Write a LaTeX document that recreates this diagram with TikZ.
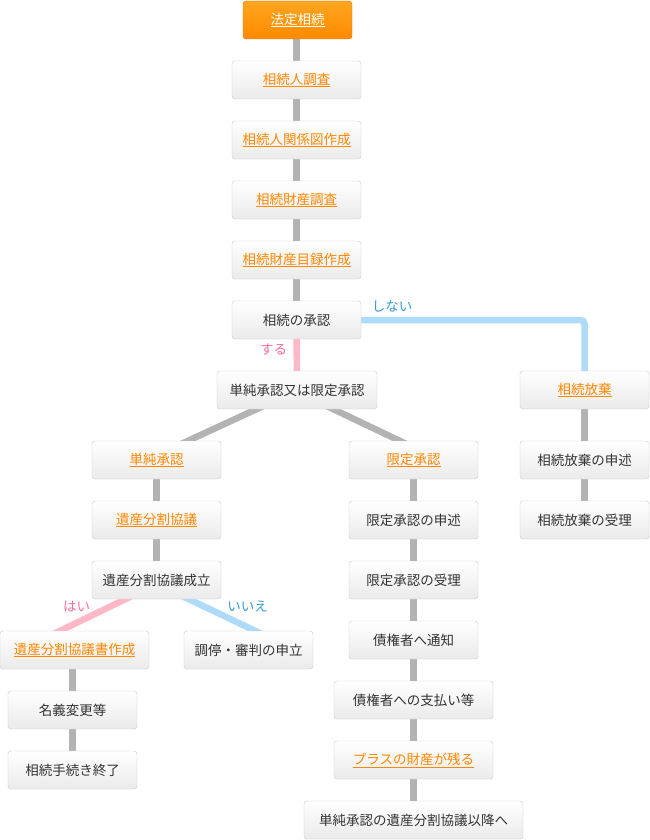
\documentclass[tikz,border=0pt]{standalone}
\usepackage{fontspec}
\setmainfont{Noto Sans CJK JP}
\usepackage{tikz}
\usetikzlibrary{backgrounds}
\definecolor{linkorange}{HTML}{FF8800}
\definecolor{txtgray}{HTML}{333333}
\definecolor{linegray}{HTML}{B3B3B3}
\definecolor{yespink}{HTML}{FFB8C8}
\definecolor{noblue}{HTML}{ADDBF8}
\definecolor{yestext}{HTML}{FF6C9C}
\definecolor{notext}{HTML}{3A9AD0}
\definecolor{boxborder}{HTML}{CACACA}
\newcommand{\lnk}[1]{\underline{#1}}

\begin{document}
\begin{tikzpicture}[x=1pt,y=-1pt,
  box/.style={draw=boxborder, rounded corners=3pt, top color=white, bottom color=black!8,
    minimum height=38pt, inner sep=0pt, text=txtgray, font=\fontsize{13.5}{16}\selectfont},
  linkbox/.style={box, text=linkorange},
  topbox/.style={box, draw=orange!85!black!90, top color={rgb,255:red,255;green,166;blue,31},
    bottom color={rgb,255:red,255;green,138;blue,0}, text=white},
  flow/.style={line width=6.5pt, draw=linegray},
  yesline/.style={line width=6.5pt, draw=yespink},
  noline/.style={line width=6.5pt, draw=noblue, rounded corners=4pt},
  yeslab/.style={text=yestext, inner sep=0pt, font=\fontsize{13.5}{16}\selectfont},
  nolab/.style={text=notext, inner sep=0pt, font=\fontsize{13.5}{16}\selectfont}]
\useasboundingbox (0,0) rectangle (650,840);

\node[topbox, minimum width=109pt] (houtei) at (297.5,20) {\lnk{法定相続}};
% boxes: name / x / y / width / kind / text
\foreach \name/\x/\y/\w/\kind/\txt in {
  chosa/296.5/80/129/linkbox/\lnk{相続人調査},
  kankei/296.5/140/129/linkbox/\lnk{相続人関係図作成},
  zaisan/296.5/200/129/linkbox/\lnk{相続財産調査},
  mokuroku/296.5/260/129/linkbox/\lnk{相続財産目録作成},
  shonin/296.5/320/129/box/相続の承認,
  either/297/390/160/box/単純承認又は限定承認,
  houki/584.5/390/129/linkbox/\lnk{相続放棄},
  houkishin/584.5/460/129/box/相続放棄の申述,
  houkijuri/584.5/520/129/box/相続放棄の受理,
  tanjun/156.5/460/129/linkbox/\lnk{単純承認},
  kyogi/156.5/520/129/linkbox/\lnk{遺産分割協議},
  seiritsu/156.5/580/129/box/遺産分割協議成立,
  kyogisho/74.5/650/149/linkbox/\lnk{遺産分割協議書作成},
  chotei/248.5/650/129/box/調停・審判の申立,
  meigi/72.5/710/129/box/名義変更等,
  shuryo/72.5/770/129/box/相続手続き終了,
  gentei/413.5/460/129/linkbox/\lnk{限定承認},
  genshin/413.5/520/129/box/限定承認の申述,
  genjuri/413.5/580/129/box/限定承認の受理,
  tsuchi/413.5/640/129/box/債権者へ通知,
  shiharai/413.5/700/159/box/債権者への支払い等,
  plus/413.5/760/159/linkbox/\lnk{プラスの財産が残る},
  igo/413.5/820/219/box/単純承認の遺産分割協議以降へ}
  \node[\kind, minimum width=\w pt] (\name) at (\x,\y) {\txt};

\node[nolab] (shinai) at (392,306) {しない};
\node[yeslab] (suru) at (273.5,349.5) {する};
\node[yeslab] (hai) at (76.5,606.5) {はい};
\node[nolab] (iie) at (247.5,606.5) {いいえ};

\begin{scope}[on background layer]
 \draw[flow] (houtei.center) -- (chosa.center |- houtei.center) -- (shonin.center);
 \draw[yesline] (shonin.center) -- (either.center);
 \draw[noline] (shonin.center) -| (houki.center);
 \draw[flow] ([xshift=1pt]either.center) -- ([xshift=-10pt]tanjun.center);
 \draw[flow] ([xshift=-4pt]either.center) -- ([xshift=26.5pt]gentei.center);
 \draw[flow] (tanjun.center) -- (seiritsu.center);
 \draw[yesline] ([xshift=8.5pt]seiritsu.center) -- ([xshift=-54pt]kyogisho.center);
 \draw[noline] ([xshift=-8pt]seiritsu.center) -- ([xshift=47pt]chotei.center);
 \draw[flow] (meigi.center |- kyogisho.center) -- (shuryo.center);
 \draw[flow] (gentei.center) -- (igo.center);
 \draw[flow] (houki.center) -- (houkijuri.center);
\end{scope}
\end{tikzpicture}
\end{document}
